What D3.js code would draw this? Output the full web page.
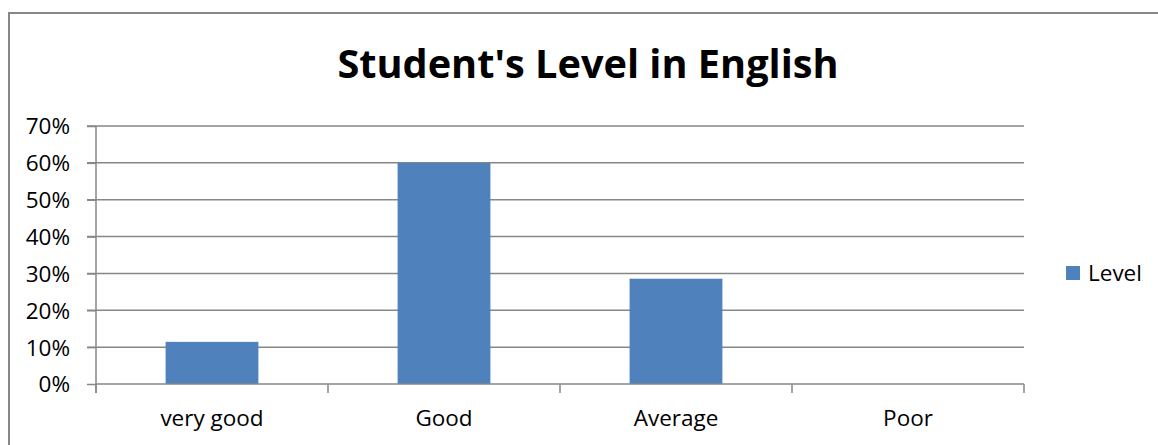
<!DOCTYPE html>
<html><head><meta charset="utf-8">
<script src="https://cdn.jsdelivr.net/npm/d3@7"></script>
<style>body{margin:0;background:#fff}svg{display:block}text{font-family:"Open Sans",sans-serif;fill:#000}</style>
</head><body><svg id="c" width="1158" height="445"></svg>
<script>
const title = "Student's Level in English";
const categories = ["very good", "Good", "Average", "Poor"];
const seriesName = "Level";
const values = [0.1143, 0.60, 0.2857, 0];
const yTicks = [0, 0.1, 0.2, 0.3, 0.4, 0.5, 0.6, 0.7];

const svg = d3.select("#c");
const W = 1158, H = 445;
const m = {left: 96, right: 1024, top: 126, bottom: 384};
const gray = "#878787";

// chart border (left and top visible)
svg.append("path").attr("d", `M9,${H} L9,13 L${W},13`).attr("fill","none").attr("stroke",gray).attr("stroke-width",2);

const x = d3.scaleBand().domain(categories).range([m.left, m.right]).paddingInner(0.6).paddingOuter(0.3);
const y = d3.scaleLinear().domain([0, 0.7]).range([m.bottom, m.top]);

// gridlines
svg.append("g").selectAll("line").data(yTicks.filter(d=>d>0)).join("line")
  .attr("x1", m.left - 9).attr("x2", m.right).attr("y1", d=>y(d)).attr("y2", d=>y(d))
  .attr("stroke", gray).attr("stroke-width", 1.5);

// bars
svg.append("g").selectAll("rect").data(values).join("rect")
  .attr("x", (d,i)=>x(categories[i])).attr("width", x.bandwidth())
  .attr("y", d=>y(d)).attr("height", d=>y(0)-y(d)).attr("fill", "#4F81BD");

// y axis
const yAxis = d3.axisLeft(y).tickValues(yTicks).tickFormat(d3.format(".0%")).tickSize(9).tickPadding(17);
const gy = svg.append("g").attr("transform", `translate(${m.left},0)`).call(yAxis);
gy.select(".domain").attr("stroke", gray).attr("stroke-width", 1.5).attr("d", `M0,${m.top}V${m.bottom+9}`);
gy.selectAll(".tick line").attr("stroke", gray).attr("stroke-width", 1.5);
gy.selectAll(".tick text").attr("font-family","'Open Sans',sans-serif").attr("font-size", 22.5).attr("fill","#000").attr("dy","0.35em");

// x axis
const xAxis = d3.axisBottom(x).tickSize(0).tickPadding(0);
const gx = svg.append("g").attr("transform", `translate(0,${m.bottom})`).call(xAxis);
gx.select(".domain").attr("stroke", gray).attr("stroke-width", 1.5).attr("d", `M${m.left},0H${m.right}`);
gx.selectAll(".tick text").attr("font-family","'Open Sans',sans-serif").attr("font-size", 22.5).attr("fill","#000").attr("y", 42).attr("dy", 0);
// category boundary ticks
const edges = d3.range(categories.length+1).map(i => m.left + i*(m.right-m.left)/categories.length);
svg.append("g").selectAll("line").data(edges).join("line")
  .attr("x1", d=>d).attr("x2", d=>d).attr("y1", m.bottom).attr("y2", m.bottom+9)
  .attr("stroke", gray).attr("stroke-width", 1.5);

// title
svg.append("text").attr("x", 588).attr("y", 78).attr("text-anchor","middle")
  .attr("font-size", 39.7).attr("font-weight", "bold").text(title);

// legend
const lg = svg.append("g").attr("transform", "translate(1066,266)");
lg.append("rect").attr("width", 14).attr("height", 14).attr("fill", "#4F81BD");
lg.append("text").attr("x", 22).attr("y", 7).attr("dy","0.35em").attr("font-size", 22.5).text(seriesName);
</script></body></html>
